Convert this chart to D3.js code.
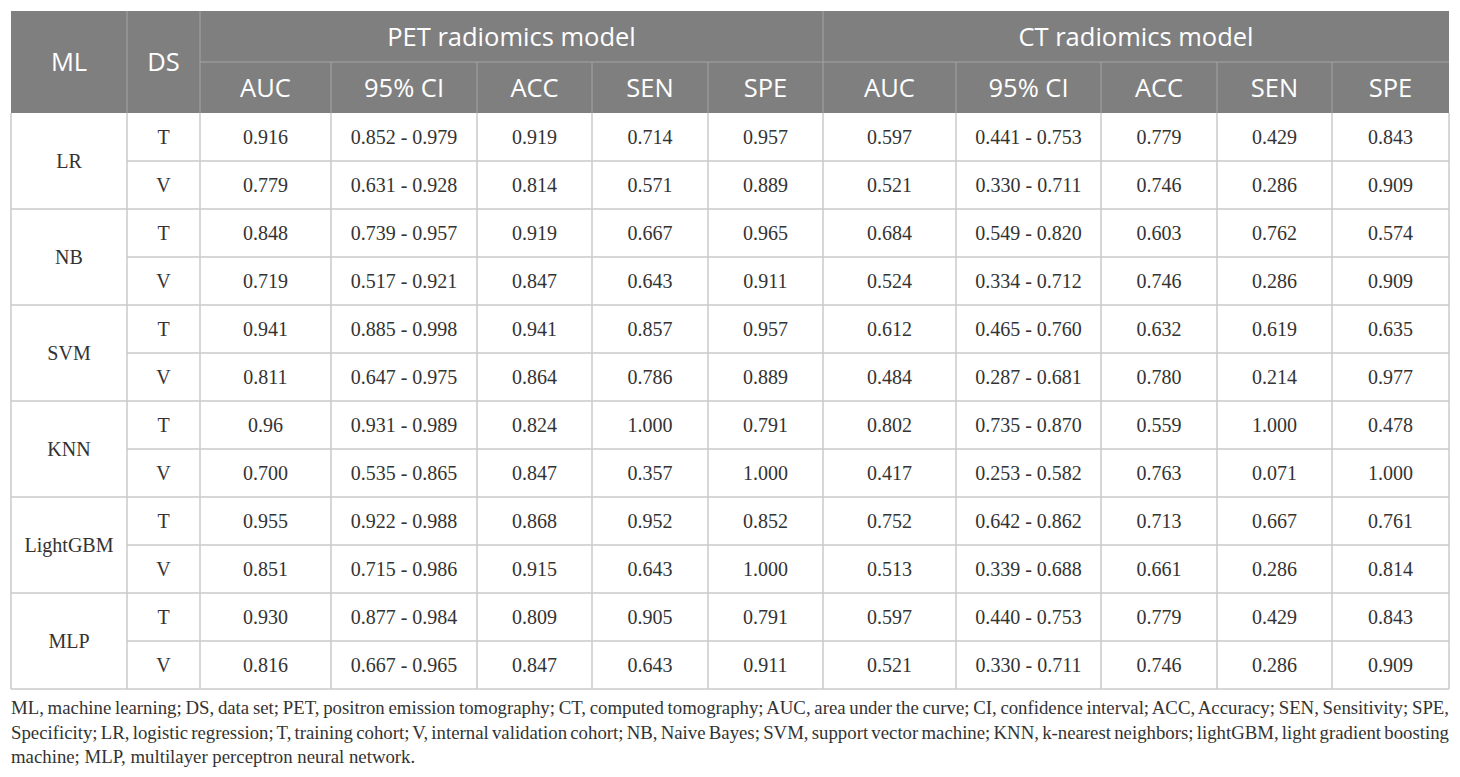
<!DOCTYPE html>
<html>
<head>
<meta charset="utf-8">
<script src="https://cdn.jsdelivr.net/npm/d3@7"></script>
<style>
  body { margin: 0; background: #fff; }
</style>
</head>
<body>
<svg id="chart"></svg>
<script>
// Table content
const models = ["LR", "NB", "SVM", "KNN", "LightGBM", "MLP"];
const cohorts = ["T", "V"];
const groups = ["PET radiomics model", "CT radiomics model"];
const metrics = ["AUC", "95% CI", "ACC", "SEN", "SPE"];

// one row per model x cohort: AUC, 95% CI, ACC, SEN, SPE
const petValues = [
  ["0.916", "0.852 - 0.979", "0.919", "0.714", "0.957"],
  ["0.779", "0.631 - 0.928", "0.814", "0.571", "0.889"],
  ["0.848", "0.739 - 0.957", "0.919", "0.667", "0.965"],
  ["0.719", "0.517 - 0.921", "0.847", "0.643", "0.911"],
  ["0.941", "0.885 - 0.998", "0.941", "0.857", "0.957"],
  ["0.811", "0.647 - 0.975", "0.864", "0.786", "0.889"],
  ["0.96", "0.931 - 0.989", "0.824", "1.000", "0.791"],
  ["0.700", "0.535 - 0.865", "0.847", "0.357", "1.000"],
  ["0.955", "0.922 - 0.988", "0.868", "0.952", "0.852"],
  ["0.851", "0.715 - 0.986", "0.915", "0.643", "1.000"],
  ["0.930", "0.877 - 0.984", "0.809", "0.905", "0.791"],
  ["0.816", "0.667 - 0.965", "0.847", "0.643", "0.911"]
];

const ctValues = [
  ["0.597", "0.441 - 0.753", "0.779", "0.429", "0.843"],
  ["0.521", "0.330 - 0.711", "0.746", "0.286", "0.909"],
  ["0.684", "0.549 - 0.820", "0.603", "0.762", "0.574"],
  ["0.524", "0.334 - 0.712", "0.746", "0.286", "0.909"],
  ["0.612", "0.465 - 0.760", "0.632", "0.619", "0.635"],
  ["0.484", "0.287 - 0.681", "0.780", "0.214", "0.977"],
  ["0.802", "0.735 - 0.870", "0.559", "1.000", "0.478"],
  ["0.417", "0.253 - 0.582", "0.763", "0.071", "1.000"],
  ["0.752", "0.642 - 0.862", "0.713", "0.667", "0.761"],
  ["0.513", "0.339 - 0.688", "0.661", "0.286", "0.814"],
  ["0.597", "0.440 - 0.753", "0.779", "0.429", "0.843"],
  ["0.521", "0.330 - 0.711", "0.746", "0.286", "0.909"]
];

const captionLines = [
  "ML, machine learning; DS, data set; PET, positron emission tomography; CT, computed tomography; AUC, area under the curve; CI, confidence interval; ACC, Accuracy; SEN, Sensitivity; SPE,",
  "Specificity; LR, logistic regression; T, training cohort; V, internal validation cohort; NB, Naive Bayes; SVM, support vector machine; KNN, k-nearest neighbors; lightGBM, light gradient boosting",
  "machine; MLP, multilayer perceptron neural network."
];

// Layout
const width = 1460;
const height = 777;
const left = 11;
const right = 1449;
const headTop = 11;
const headMid = 62;
const headBottom = 113;
const bodyBottom = 689;

// column edges: ML, DS, then 5 PET + 5 CT metric columns
const colEdges = [11, 127, 200, 331, 477, 592, 708, 823, 956, 1101, 1217, 1332, 1449];
const colCenter = (i) => (colEdges[i] + colEdges[i + 1]) / 2;

const headerFill = "#7f7f7f";
const headerLine = "#a5a5a5";
const gridColor = "#cacaca";
const textColor = "#333";
const headFont = "'Open Sans', sans-serif";
const bodyFont = "'Liberation Serif', 'Times New Roman', serif";

const svg = d3.select("#chart").attr("width", width).attr("height", height);

// rows: every model x cohort combination
const rows = models.flatMap((m, mi) =>
  cohorts.map((c, ci) => ({
    model: m,
    cohort: c,
    index: mi * cohorts.length + ci,
    values: petValues[mi * cohorts.length + ci].concat(ctValues[mi * cohorts.length + ci])
  }))
);

const yScale = d3
  .scaleBand()
  .domain(rows.map((d) => d.index))
  .range([headBottom, bodyBottom]);

const modelScale = d3
  .scaleBand()
  .domain(models)
  .range([headBottom, bodyBottom]);

// Header background
svg
  .append("rect")
  .attr("x", left)
  .attr("y", headTop)
  .attr("width", right - left)
  .attr("height", headBottom - headTop)
  .attr("fill", headerFill);

const head = svg.append("g").attr("class", "header");

// header lines: group separator, metric separators
head
  .append("line")
  .attr("x1", colEdges[2])
  .attr("x2", right)
  .attr("y1", headMid)
  .attr("y2", headMid)
  .attr("stroke", headerLine);

[1, 2, 7].forEach((i) => {
  head
    .append("line")
    .attr("x1", colEdges[i])
    .attr("x2", colEdges[i])
    .attr("y1", headTop)
    .attr("y2", headBottom)
    .attr("stroke", headerLine);
});

d3.range(3, 12)
  .filter((i) => i !== 7)
  .forEach((i) => {
    head
      .append("line")
      .attr("x1", colEdges[i])
      .attr("x2", colEdges[i])
      .attr("y1", headMid)
      .attr("y2", headBottom)
      .attr("stroke", headerLine);
  });

// header texts
head
  .selectAll(".rowhead")
  .data(["ML", "DS"])
  .enter()
  .append("text")
  .attr("x", (d, i) => colCenter(i))
  .attr("y", (headTop + headBottom) / 2 + 9)
  .attr("text-anchor", "middle")
  .attr("fill", "#fff")
  .style("font-family", headFont)
  .style("font-size", "25.5px")
  .text((d) => d);

head
  .selectAll(".group")
  .data(groups)
  .enter()
  .append("text")
  .attr("x", (d, i) => (colEdges[2 + i * 5] + colEdges[7 + i * 5]) / 2)
  .attr("y", (headTop + headMid) / 2 + 9)
  .attr("text-anchor", "middle")
  .attr("fill", "#fff")
  .style("font-family", headFont)
  .style("font-size", "25.5px")
  .text((d) => d);

head
  .selectAll(".metric")
  .data(groups.flatMap(() => metrics))
  .enter()
  .append("text")
  .attr("x", (d, i) => colCenter(i + 2))
  .attr("y", (headMid + headBottom) / 2 + 9.5)
  .attr("text-anchor", "middle")
  .attr("fill", "#fff")
  .style("font-family", headFont)
  .style("font-size", "25.5px")
  .text((d) => d);

// Body grid
const grid = svg.append("g").attr("class", "grid").attr("stroke", gridColor).attr("stroke-width", 1.5);

// horizontal lines in value columns (every row)
rows.forEach((d) => {
  grid
    .append("line")
    .attr("x1", colEdges[1])
    .attr("x2", right)
    .attr("y1", yScale(d.index) + yScale.bandwidth())
    .attr("y2", yScale(d.index) + yScale.bandwidth());
});

// horizontal lines in ML column (every model)
models.forEach((m) => {
  grid
    .append("line")
    .attr("x1", left)
    .attr("x2", colEdges[1])
    .attr("y1", modelScale(m) + modelScale.bandwidth())
    .attr("y2", modelScale(m) + modelScale.bandwidth());
});

colEdges.forEach((x) => {
  grid
    .append("line")
    .attr("x1", x)
    .attr("x2", x)
    .attr("y1", headBottom)
    .attr("y2", bodyBottom);
});

// Body text
const body = svg
  .append("g")
  .attr("class", "body")
  .attr("fill", textColor)
  .attr("text-anchor", "middle")
  .style("font-family", bodyFont)
  .style("font-size", "20px");

body
  .selectAll(".model")
  .data(models)
  .enter()
  .append("text")
  .attr("x", colCenter(0))
  .attr("y", (d) => modelScale(d) + modelScale.bandwidth() / 2 + 7)
  .text((d) => d);

const rowG = body
  .selectAll(".row")
  .data(rows)
  .enter()
  .append("g")
  .attr("transform", (d) => `translate(0, ${yScale(d.index) + yScale.bandwidth() / 2 + 7})`);

rowG
  .append("text")
  .attr("x", colCenter(1))
  .text((d) => d.cohort);

rowG
  .selectAll(".val")
  .data((d) => d.values)
  .enter()
  .append("text")
  .attr("x", (d, i) => colCenter(i + 2))
  .text((d) => d);

// Caption, justified except the last line
const caption = svg
  .append("g")
  .attr("fill", textColor)
  .style("font-family", bodyFont)
  .style("font-size", "18.8px");

captionLines.forEach((line, i) => {
  const t = caption
    .append("text")
    .attr("x", left)
    .attr("y", 714 + i * 24.5)
    .text(line);
  if (i < captionLines.length - 1) {
    const natural = t.node().getComputedTextLength();
    const spaces = line.split(" ").length - 1;
    t.attr("word-spacing", (right - left - natural) / spaces);
  }
});
</script>
</body>
</html>
